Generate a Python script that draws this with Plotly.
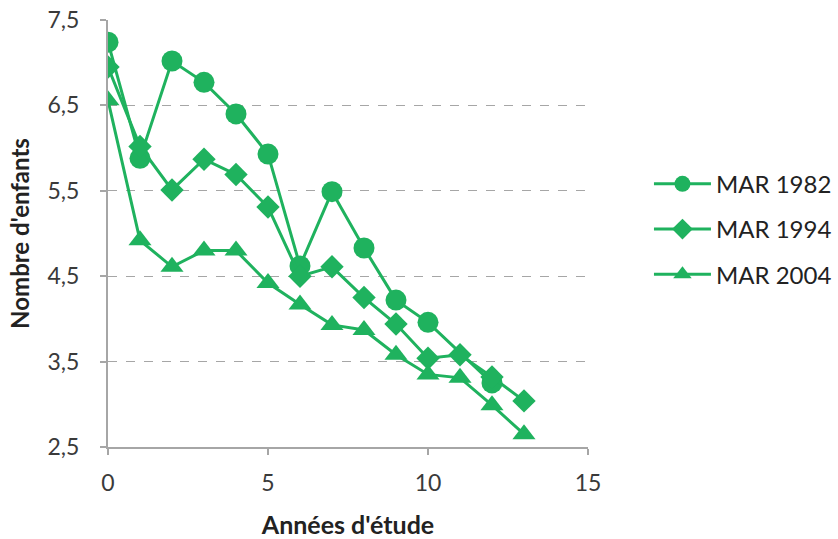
import plotly.graph_objects as go

years_1982 = [0, 1, 2, 3, 4, 5, 6, 7, 8, 9, 10, 12]
mar_1982 = [7.24, 5.88, 7.02, 6.77, 6.40, 5.93, 4.62, 5.49, 4.83, 4.22, 3.96, 3.25]

years_1994 = [0, 1, 2, 3, 4, 5, 6, 7, 8, 9, 10, 11, 12, 13]
mar_1994 = [6.95, 6.02, 5.51, 5.87, 5.69, 5.31, 4.50, 4.61, 4.25, 3.94, 3.54, 3.58, 3.32, 3.04]

years_2004 = [0, 1, 2, 3, 4, 5, 6, 7, 8, 9, 10, 11, 12, 13]
mar_2004 = [6.56, 4.92, 4.61, 4.80, 4.80, 4.42, 4.17, 3.93, 3.87, 3.58, 3.35, 3.31, 2.99, 2.65]

x_ticks = [0, 5, 10, 15]
y_ticks = [2.5, 3.5, 4.5, 5.5, 6.5, 7.5]

GREEN = "#1fb25e"
FONT = "Lato, Open Sans, sans-serif"

fig = go.Figure()
fig.add_trace(go.Scatter(x=years_1982, y=mar_1982, name="MAR 1982", mode="lines+markers",
                         legendgroup="a",
                         line=dict(color=GREEN, width=3),
                         marker=dict(symbol="circle", size=21, color=GREEN)))
fig.add_trace(go.Scatter(x=years_1994, y=mar_1994, name="MAR 1994", mode="lines+markers",
                         legendgroup="b",
                         line=dict(color=GREEN, width=3),
                         marker=dict(symbol="diamond", size=18, color=GREEN)))
fig.add_trace(go.Scatter(x=years_2004, y=mar_2004, name="MAR 2004", mode="lines+markers",
                         legendgroup="c",
                         line=dict(color=GREEN, width=3),
                         marker=dict(symbol="triangle-up", size=20, color=GREEN)))

fig.update_layout(
    width=838, height=539,
    margin=dict(l=108, r=250, t=20, b=92, autoexpand=False),
    paper_bgcolor="white", plot_bgcolor="white",
    separators=", ",
    font=dict(family=FONT, size=23, color="#3a3a3a"),
    legend=dict(x=1.127, y=0.51, xanchor="left", yanchor="middle",
                font=dict(size=24, color="#222222"), traceorder="grouped",
                tracegroupgap=11, itemwidth=57, bgcolor="rgba(0,0,0,0)"),
    xaxis=dict(range=[0, 15], tickvals=x_ticks, showgrid=False, zeroline=False,
               automargin=False,
               showline=True, linecolor="#a6a6a6", linewidth=2,
               ticks="outside", ticklen=6, tickcolor="#a6a6a6", tickwidth=1.5,
               ticklabelstandoff=8,
               tickfont=dict(size=23, color="#3a3a3a"),
               title=dict(text="<b>Années d'étude</b>", font=dict(size=25, color="#222222"), standoff=26)),
    yaxis=dict(range=[2.5, 7.5], tickvals=y_ticks, tickformat=".1f",
               automargin=False,
               showgrid=True, gridcolor="#a6a6a6", griddash="dash", gridwidth=1.2,
               zeroline=False, showline=True, linecolor="#a6a6a6", linewidth=2,
               ticks="outside", ticklen=6, tickcolor="#a6a6a6", tickwidth=1.5,
               ticklabelstandoff=16,
               tickfont=dict(size=23, color="#3a3a3a"),
               title=dict(text="<b>Nombre d'enfants</b>", font=dict(size=24, color="#222222"), standoff=11)),
)

fig.write_html("out.html", config={"displayModeBar": False},
               post_script="document.body.style.margin='0';")
